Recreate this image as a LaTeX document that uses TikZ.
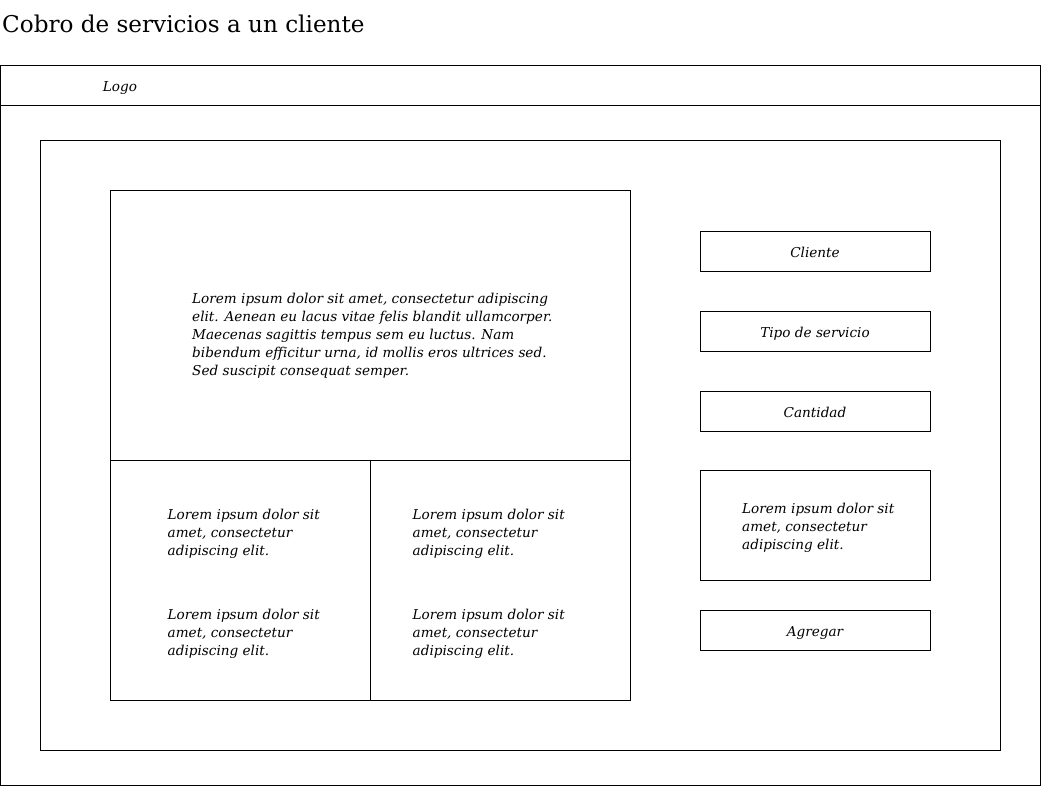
\documentclass[tikz,border=0pt]{standalone}
\usepackage{fontspec}
\setmainfont{DejaVu Serif}
\begin{document}
\begin{tikzpicture}[x=1pt,y=-1pt,
  box/.style={draw=black,line width=1pt},
  txt/.style={inner sep=0pt,anchor=base west,font=\itshape\fontsize{13.6}{18}\selectfont},
  lbl/.style={inner sep=0pt,anchor=base,font=\itshape\fontsize{13.6}{18}\selectfont}]
\useasboundingbox[fill=white] (0,0) rectangle (1041,786);
\node[inner sep=0pt,anchor=base west,font=\fontsize{23.1}{27}\selectfont] (title) at (2,33) {Cobro de servicios a un cliente};
% outer frame
\draw[box] (0.5,65.5) rectangle (1040.5,785.5);
\draw[box] (0.5,105.5) -- (1040.5,105.5);
\node[lbl] (logo) at (120,91.5) {Logo};
% inner frame
\draw[box] (40.5,140.5) rectangle (1000.5,750.5);
% big box
\draw[box] (110.5,190.5) rectangle (630.5,460.5);
\node[txt] (big) at (192,303) {\vtop{\baselineskip=18pt
  \hbox{Lorem ipsum dolor sit amet, consectetur adipiscing}
  \hbox{elit. Aenean eu lacus vitae felis blandit ullamcorper.}
  \hbox{Maecenas sagittis tempus sem eu luctus. Nam}
  \hbox{bibendum efficitur urna, id mollis eros ultrices sed.}
  \hbox{Sed suscipit consequat semper.}}};
% lower boxes
\draw[box] (110.5,460.5) rectangle (370.5,700.5);
\draw[box] (370.5,460.5) rectangle (630.5,700.5);
\newcommand{\shortlorem}{\vtop{\baselineskip=18pt
  \hbox{Lorem ipsum dolor sit}
  \hbox{amet, consectetur}
  \hbox{adipiscing elit.}}}
\node[txt] (t1) at (167.5,519) {\shortlorem};
\node[txt] (t2) at (167.5,619) {\shortlorem};
\node[txt] (t3) at (412.5,519) {\shortlorem};
\node[txt] (t4) at (412.5,619) {\shortlorem};
% right column
\draw[box] (700.5,231.5) rectangle (930.5,271.5);
\node[lbl] (cliente) at (815,257.5) {Cliente};
\draw[box] (700.5,311.5) rectangle (930.5,351.5);
\node[lbl] (tipo) at (815,337.5) {Tipo de servicio};
\draw[box] (700.5,391.5) rectangle (930.5,431.5);
\node[lbl] (cantidad) at (815,417.5) {Cantidad};
\draw[box] (700.5,470.5) rectangle (930.5,580.5);
\node[txt] (t5) at (742,513) {\shortlorem};
\draw[box] (700.5,610.5) rectangle (930.5,650.5);
\node[lbl] (agregar) at (815,636.5) {Agregar};
\end{tikzpicture}
\end{document}
